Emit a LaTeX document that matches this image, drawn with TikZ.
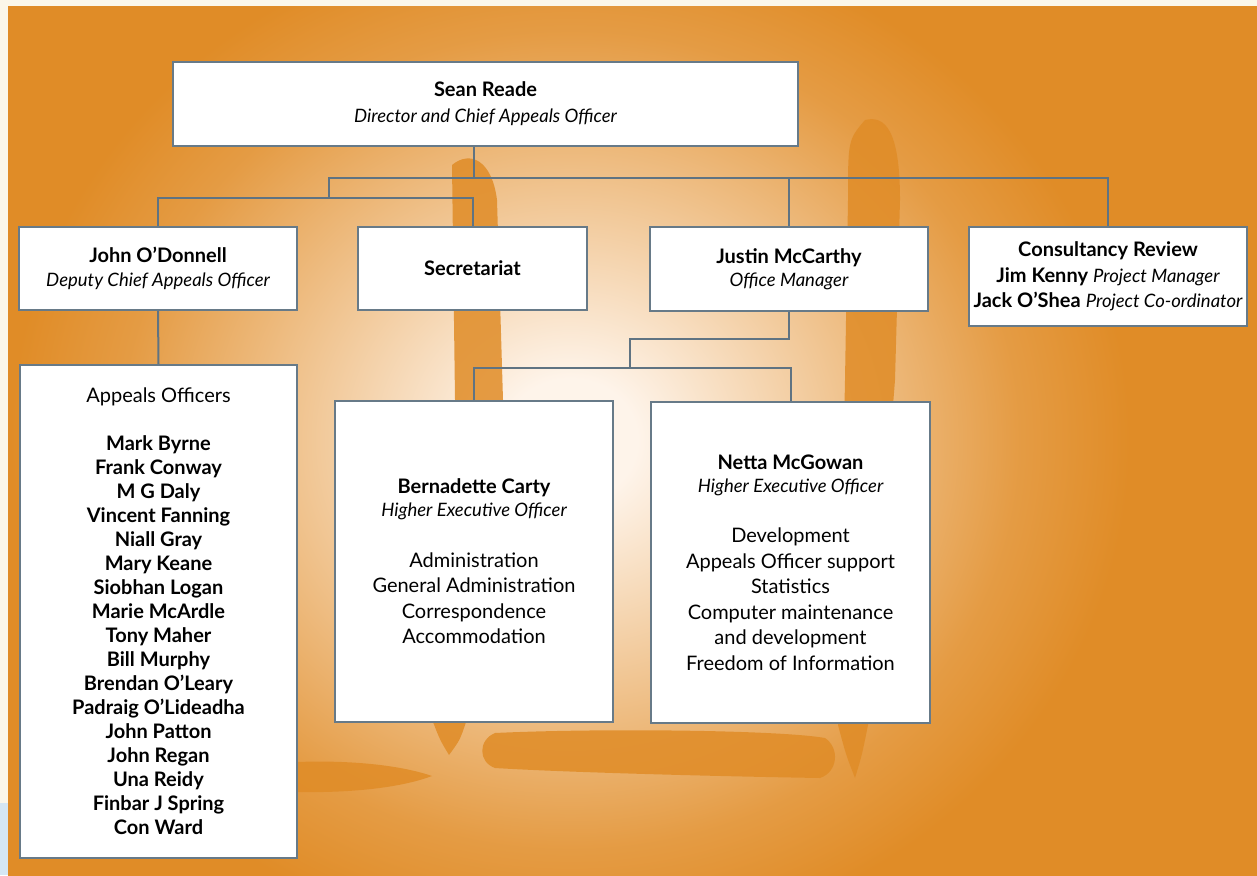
\documentclass[tikz,border=0pt]{standalone}
\usepackage{fontspec}
\setmainfont{Lato}
\usepackage{xcolor}

\definecolor{cream}{HTML}{FBF7EA}
\definecolor{sky}{HTML}{D5E7F4}
\definecolor{orangebg}{HTML}{E08C27}
\definecolor{glow}{HTML}{FEF4EA}
\definecolor{cardline}{HTML}{677A88}
\definecolor{linkcol}{HTML}{5F7382}

\pgfdeclareradialshading{glowshade}{\pgfpoint{0bp}{0bp}}{color(0bp)=(glow); color(1.5bp)=(glow); color(4bp)=(glow!75!orangebg); color(7bp)=(glow!45!orangebg); color(10bp)=(glow!15!orangebg); color(12.5bp)=(orangebg); color(50bp)=(orangebg)}

\newcommand{\role}[1]{{\fontsize{18.5}{23.5}\selectfont\itshape #1}}

\tikzset{
  card/.style={draw=cardline, line width=1.8pt, fill=white, rectangle, inner sep=0pt, align=center, font=\fontsize{20}{23.5}\selectfont},
  link/.style={draw=linkcol, line width=2pt},
  blot/.style={fill=orangebg, opacity=0.85}
}

\begin{document}
\begin{tikzpicture}[x=1pt, y=-1pt]
    \useasboundingbox (0,0) rectangle (1257,875);

    % Background
    \fill[cream] (0,0) rectangle (1257,875);
    \fill[sky] (0,803) rectangle (8,875);
    \fill[orangebg] (8,7) rectangle (1257,875);
    \begin{scope}
        \clip (8,7) rectangle (1257,875);
        \shade[shading=glowshade] (570,440) ellipse (1120pt and 1020pt);
        \fill[blot] (452,165) .. controls (470,150) and (492,160) .. (497,200) -- (503,400) -- (466,722) .. controls (460,740) .. (449,755) .. controls (440,740) .. (433,722) -- (455,400) -- cycle;
        \fill[blot] (865,120) .. controls (885,115) and (900,130) .. (900,200) -- (895,380) -- (868,725) .. controls (862,755) .. (855,778) .. controls (846,755) .. (838,725) -- (845,380) -- (848,200) .. controls (848,140) .. (865,120) -- cycle;
        \fill[blot] (495,733) .. controls (600,728) and (780,730) .. (825,738) .. controls (840,748) and (838,772) .. (820,778) .. controls (700,776) and (560,772) .. (495,768) .. controls (478,762) and (478,740) .. (495,733) -- cycle;
        \fill[blot] (297,762) .. controls (350,760) and (400,765) .. (432,776) .. controls (400,788) and (350,793) .. (297,792) -- cycle;
    \end{scope}

    % Director
    \node[card, minimum width=625pt, minimum height=84pt, font=\fontsize{20}{26}\selectfont] (sean) at (485.5,104)
        {\textbf{Sean Reade}\\ \role{Director and Chief Appeals Officer}};

    % Second row
    \node[card, minimum width=278pt, minimum height=83pt] (john) at (158,268.5)
        {\textbf{John O'Donnell}\\ \role{Deputy Chief Appeals Officer}};
    \node[card, minimum width=229pt, minimum height=83pt] (secr) at (472.5,268.5)
        {\textbf{Secretariat}};
    \node[card, minimum width=278pt, minimum height=84pt] (justin) at (789,269)
        {\textbf{Justin McCarthy}\\ \role{Office Manager}};
    \node[card, minimum width=278pt, minimum height=99pt, font=\fontsize{20}{25.5}\selectfont] (cons) at (1108,276.5)
        {\textbf{Consultancy Review}\\ \textbf{Jim Kenny} \role{Project Manager}\\ \textbf{Jack O'Shea} \role{Project Co-ordinator}};

    % Appeals officers
    \node[card, minimum width=277pt, minimum height=493pt, font=\fontsize{20}{24}\selectfont] (appeals) at (158.5,611.5)
        {Appeals Officers\\[24pt]
         \textbf{Mark Byrne}\\ \textbf{Frank Conway}\\ \textbf{M G Daly}\\ \textbf{Vincent Fanning}\\
         \textbf{Niall Gray}\\ \textbf{Mary Keane}\\ \textbf{Siobhan Logan}\\ \textbf{Marie McArdle}\\
         \textbf{Tony Maher}\\ \textbf{Bill Murphy}\\ \textbf{Brendan O'Leary}\\ \textbf{Padraig O'Lideadha}\\
         \textbf{John Patton}\\ \textbf{John Regan}\\ \textbf{Una Reidy}\\ \textbf{Finbar J Spring}\\ \textbf{Con Ward}};

    % Higher executive officers
    \node[card, minimum width=278pt, minimum height=321pt, font=\fontsize{20}{25.5}\selectfont] (bern) at (474,561.5)
        {\textbf{Bernadette Carty}\\[-2.5pt] \role{Higher Executive Officer}\\[25pt]
         Administration\\ General Administration\\ Correspondence\\ Accommodation};
    \node[card, minimum width=279pt, minimum height=321pt, font=\fontsize{20}{25.5}\selectfont] (netta) at (790.5,562.5)
        {\textbf{Netta McGowan}\\[-2.5pt] \role{Higher Executive Officer}\\[25pt]
         Development\\ Appeals Officer support\\ Statistics\\ Computer maintenance\\ and development\\ Freedom of Information};

    % Connections
    \coordinate (busTop) at (474,178);
    \coordinate (busLow) at (329,198);
    \coordinate (midA) at (630,339);
    \coordinate (midB) at (630,368);
    \draw[link] (sean.south -| busTop) -- (busTop);
    \draw[link] (busLow) |- (cons.north |- busTop) -- (cons.north);
    \draw[link] (justin.north |- busTop) -- (justin.north);
    \draw[link] (john.north) |- (secr.north |- busLow) -- (secr.north);
    \draw[link] (john.south) -- (appeals.north);
    \draw[link] (justin.south) |- (midA) -- (midB);
    \draw[link] (bern.north) |- (netta.north |- midB) -- (netta.north);
\end{tikzpicture}
\end{document}
